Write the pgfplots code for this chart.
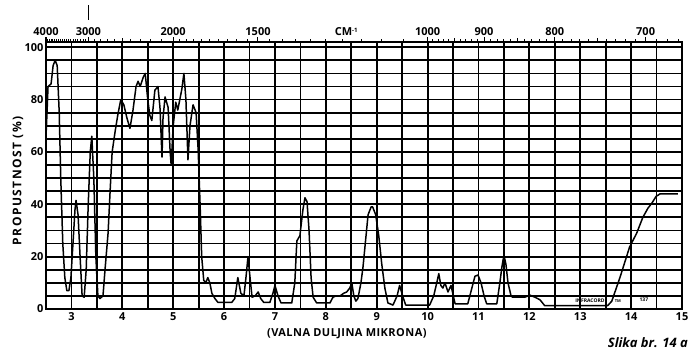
\documentclass[border=0pt]{standalone}
\usepackage{fontspec}
\setmainfont{Open Sans}
\usepackage{pgfplots}
\usepackage{pgfplotstable}
\pgfplotsset{compat=1.18}
\pgfplotstableread{
x y
2.50 66
2.52 75
2.54 85
2.60 86
2.64 93
2.68 95
2.72 93
2.76 75
2.79 50
2.83 25
2.87 12
2.91 7
2.95 7
2.99 12
3.03 25
3.07 38
3.09 41.5
3.13 36
3.17 20
3.21 5
3.25 4.5
3.29 15
3.33 40
3.37 60
3.40 66
3.44 50
3.48 20
3.52 5
3.56 4
3.62 5
3.66 15
3.72 29
3.76 45
3.80 60
3.86 68
3.91 74
3.97 80
4.03 78
4.09 73
4.15 69
4.21 76
4.27 85
4.31 87
4.35 85
4.41 88.5
4.45 90
4.50 80
4.54 74
4.58 72
4.64 83.6
4.70 85
4.74 77
4.78 58
4.80 73
4.84 81
4.90 77
4.94 60
4.96 55
5.00 70
5.05 79
5.09 76
5.13 80
5.17 84
5.21 90
5.25 80
5.29 57
5.33 70
5.39 78
5.45 75
5.49 61
5.53 39
5.56 20
5.60 11
5.64 10
5.68 12
5.72 10
5.76 6
5.82 4
5.88 2.5
6.02 2.5
6.15 2.5
6.21 4
6.27 12
6.33 6
6.39 5
6.43 12
6.47 20
6.51 12
6.55 4.5
6.61 5
6.67 6.5
6.72 4
6.78 2.5
6.90 2.5
6.96 6
7.00 9
7.06 5
7.12 2.3
7.33 2.3
7.39 10
7.43 26
7.49 28
7.55 38
7.59 42.5
7.63 41
7.67 30
7.71 12
7.75 4.5
7.82 2.3
8.08 2.3
8.14 4.5
8.20 5
8.28 5
8.35 6
8.41 6.5
8.47 8
8.51 10
8.55 5
8.59 3
8.63 4
8.69 10
8.73 16
8.79 28
8.83 36
8.89 39
8.92 39
8.98 36
9.04 28
9.10 17
9.16 8
9.22 2.3
9.32 1.5
9.40 5
9.45 9
9.51 5
9.57 1.5
10.04 1.5
10.12 5
10.18 10
10.22 13.5
10.26 9
10.30 8
10.34 10
10.40 6.5
10.46 9
10.54 2
10.79 2
10.87 8
10.93 12.5
10.99 13
11.05 10
11.11 5
11.16 2
11.36 2
11.42 10
11.46 16
11.50 20.6
11.54 17
11.58 10
11.64 5
11.67 4.5
11.91 4.5
12.01 5.3
12.11 4.5
12.21 3.5
12.30 1.3
13.54 1.3
13.62 3
13.78 12
13.97 23.7
14.11 29
14.23 35
14.33 38.5
14.41 40.5
14.49 43
14.57 44
14.92 44
}\spectrum

\begin{document}
\begin{tikzpicture}
\useasboundingbox (-46pt,-41pt) rectangle (644pt,309pt);
\begin{axis}[
  at={(0pt,0pt)}, anchor=south west,
  scale only axis, width=636pt, height=267pt,
  xmin=2.5, xmax=15, ymin=0, ymax=102,
  clip=false,
  xtick={3,...,15}, minor xtick={3.5,4.5,...,14.5},
  ytick={0,20,...,100}, minor ytick={5,10,...,95},
  grid=both,
  major grid style={black, line width=1.8pt},
  minor grid style={black, line width=1.8pt},
  major tick length=0pt, minor tick length=0pt,
  axis line style={line width=1.8pt},
  tick label style={font=\bfseries\fontsize{11}{13}\selectfont},
  /pgf/number format/assume math mode=true,
  xticklabel style={inner sep=0pt, anchor=north, yshift=-3pt},
  yticklabel style={xshift=1pt},
]
\addplot[black, line width=1.5pt, line join=round] table[x=x,y=y] {\spectrum};

% top wavenumber scale
\pgfplotsinvokeforeach{4000,3000,2000,1500,1000,900,800,700}{
  \draw[line width=1pt] (axis cs:{10000/#1},102) -- ([yshift=5pt]axis cs:{10000/#1},102);
  \node[anchor=south, inner sep=0pt, font=\bfseries\fontsize{11}{13}\selectfont] at ([yshift=6pt]axis cs:{10000/#1},102) {#1};
}
\pgfplotsinvokeforeach{3950,3900,3850,3800,3750,3700,3650,3600,3550,3500,3450,3400,3350,3300,3250,3200,3150,3100,3050,
  2900,2800,2700,2600,2400,2300,2200,2100,1950,1900,1850,1800,1750,1700,1650,1600,1550,
  1450,1400,1350,1300,1250,1200,1150,1100,1050,
  990,980,970,960,940,930,920,910,890,880,870,860,840,830,820,810,790,780,770,760,740,730,720,710,690,680,670}{
  \draw[line width=0.8pt] (axis cs:{10000/#1},102) -- ([yshift=2.5pt]axis cs:{10000/#1},102);
}
\pgfplotsinvokeforeach{2500,950,850,750}{
  \draw[line width=0.9pt] (axis cs:{10000/#1},102) -- ([yshift=4pt]axis cs:{10000/#1},102);
}
\draw[line width=1.2pt] ([yshift=22pt]axis cs:3.3333,102) -- ([yshift=37pt]axis cs:3.3333,102);
\node[anchor=south, inner sep=0pt, font=\bfseries\fontsize{11}{13}\selectfont] at ([yshift=6pt]axis cs:8.4,102) {CM\raisebox{0.5ex}{\fontsize{6}{7}\selectfont -1}};

% labels
\node[rotate=90, font=\bfseries\fontsize{12}{14}\selectfont\addfontfeature{LetterSpace=12}] at ([xshift=-28pt]rel axis cs:0,0.48) {PROPUSTNOST (\%)};
\node[anchor=north, inner sep=0pt, font=\bfseries\fontsize{11}{13}\selectfont\addfontfeature{LetterSpace=4}] at ([yshift=-19pt]rel axis cs:0.473,0) {(VALNA DULJINA MIKRONA)};
\node[anchor=east, inner sep=0pt, font=\bfseries\itshape\fontsize{13}{15}\selectfont] at ([xshift=6pt,yshift=-34pt]rel axis cs:1,0) {Slika br. 14 a};
\node[font=\bfseries\fontsize{5}{6}\selectfont, inner sep=1pt] at (axis cs:13.19,3.2) {INFRACORD};
\node[font=\bfseries\fontsize{4}{5}\selectfont, inner sep=0pt] at (axis cs:13.74,3) {TM};
\node[font=\bfseries\fontsize{5}{6}\selectfont, inner sep=0pt] at (axis cs:14.25,3.5) {137};
\end{axis}
\end{tikzpicture}
\end{document}
